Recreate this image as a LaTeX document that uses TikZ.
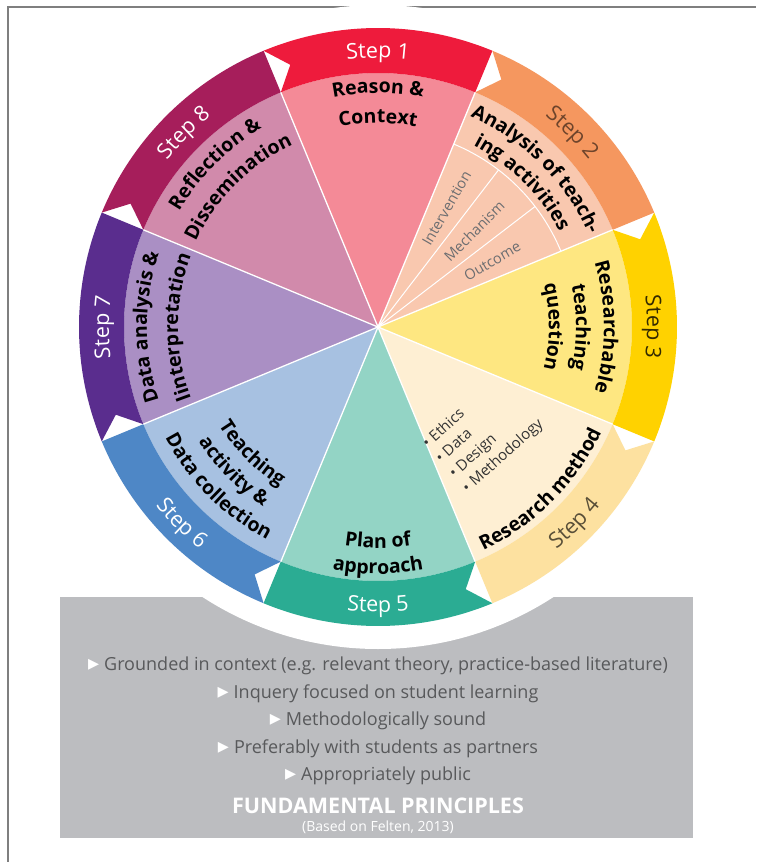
\documentclass[tikz,border=0pt]{standalone}
\usepackage{fontspec}
\setmainfont{Open Sans}
\newfontfamily\trifont{DejaVu Sans}
\usetikzlibrary{decorations.text}

\definecolor{bandA}{HTML}{EE1B3C}
\definecolor{fillA}{HTML}{F48A97}
\definecolor{bandB}{HTML}{F5975F}
\definecolor{fillB}{HTML}{F9C8AF}
\definecolor{bandC}{HTML}{FFD200}
\definecolor{fillC}{HTML}{FEE781}
\definecolor{bandD}{HTML}{FDE1A0}
\definecolor{fillD}{HTML}{FEEFD3}
\definecolor{bandE}{HTML}{2BAC93}
\definecolor{fillE}{HTML}{93D4C5}
\definecolor{bandF}{HTML}{4E87C6}
\definecolor{fillF}{HTML}{A7C1E1}
\definecolor{bandG}{HTML}{5A2D8E}
\definecolor{fillG}{HTML}{AA8FC4}
\definecolor{bandH}{HTML}{A61E5B}
\definecolor{fillH}{HTML}{D18AAB}
\definecolor{boxgrey}{HTML}{BCBDC0}
\definecolor{rulegrey}{HTML}{58595B}
\definecolor{subgrey}{HTML}{6D6E71}
\definecolor{framegrey}{HTML}{7F7F7F}

\newcommand\lbl{\bfseries\fontsize{19.5}{24}\selectfont}
\newcommand\stp{\fontsize{21.5}{24}\selectfont}
\newcommand\tri{{\trifont\fontsize{22}{22}\selectfont\color{white}▸}\hspace{5pt}}

\begin{document}
\begin{tikzpicture}[x=1pt, y=1pt, node distance=27.5pt,
  curved/.style={decorate, decoration={text along path, text align=center, text={#1}}},
  sub/.style={text=subgrey, font=\fontsize{14.5}{16}\selectfont},
  rule/.style={text=rulegrey, font=\fontsize{18}{20}\selectfont}]

\useasboundingbox (-378,-535) rectangle (378,327);
\draw[framegrey, line width=1.5] (-370,-535) -- (-370,320) -- (378,320);

% principles box with the white ring cut out
\fill[boxgrey] (-318,-270) rectangle (315,-511);
\fill[white] (0,0) circle[radius=322pt];

% the eight steps
\foreach \k/\bc/\sc in {1/bandA/fillA, 2/bandB/fillB, 3/bandC/fillC, 4/bandD/fillD,
                        5/bandE/fillE, 6/bandF/fillF, 7/bandG/fillG, 8/bandH/fillH} {
  \pgfmathsetmacro\s{112.5-45*(\k-1)}
  \pgfmathsetmacro\e{\s-45}
  \fill[\sc] (0,0) -- (\s:254pt) arc[start angle=\s, end angle=\e, radius=254pt] -- cycle;
  \fill[\bc] (\s:299pt) arc[start angle=\s, end angle=\e, radius=299pt]
    -- (\e:254pt) arc[start angle=\e, end angle=\s, radius=254pt] -- ({\s-4}:276.5pt) -- cycle;
}
\foreach \t in {22.5,67.5,...,337.5}
  \draw[white, line width=1.3] (0,0) -- (\t:254pt);

% step 2 subdivision
\draw[white, line width=1] (67.5:198pt) arc[start angle=67.5, end angle=22.5, radius=198pt];
\draw[white, line width=1] (0,0) -- (52.5:198pt) (0,0) -- (37.5:198pt);
\node[sub, rotate=60] (int) at (60:137pt) {Intervention};
\node[sub, rotate=45] (mech) at (45:136pt) {Mechanism};
\node[sub, rotate=30] (out) at (30:132pt) {Outcome};

% step labels in the rim
\path[curved={|\stp|Step 1}, decoration={text color=white}] (118:269pt) arc[start angle=118, end angle=62, radius=269pt];
\path[curved={|\stp|Step 2}, decoration={text color=black!55!bandB}] (73:269pt) arc[start angle=73, end angle=17, radius=269pt];
\path[curved={|\stp|Step 3}, decoration={text color=black!80!bandC}] (28:269pt) arc[start angle=28, end angle=-28, radius=269pt];
\path[curved={|\stp|Step 4}, decoration={text color=black!65!bandD}] (-73:285pt) arc[start angle=-73, end angle=-17, radius=285pt];
\path[curved={|\stp|Step 5}, decoration={text color=white}] (-118:285pt) arc[start angle=-118, end angle=-62, radius=285pt];
\path[curved={|\stp|Step 6}, decoration={text color=white}] (197:285pt) arc[start angle=197, end angle=253, radius=285pt];
\path[curved={|\stp|Step 7}, decoration={text color=white}] (208:269pt) arc[start angle=208, end angle=152, radius=269pt];
\path[curved={|\stp|Step 8}, decoration={text color=white}] (163:269pt) arc[start angle=163, end angle=107, radius=269pt];

% sector titles
\path[curved={|\lbl|Reason {\&}}] (118:234pt) arc[start angle=118, end angle=62, radius=234pt];
\path[curved={|\lbl|Context}] (118:204pt) arc[start angle=118, end angle=62, radius=204pt];
\path[curved={|\lbl|Analysis of teach-}] (77:230pt) arc[start angle=77, end angle=13, radius=230pt];
\path[curved={|\lbl|ing activities}] (77:205pt) arc[start angle=77, end angle=13, radius=205pt];
\path[curved={|\lbl|Researchable}] (28:226pt) arc[start angle=28, end angle=-28, radius=226pt];
\path[curved={|\lbl|teaching}] (28:198pt) arc[start angle=28, end angle=-28, radius=198pt];
\path[curved={|\lbl|question}] (28:171pt) arc[start angle=28, end angle=-28, radius=171pt];
\path[curved={|\lbl|Research method}] (-77:247pt) arc[start angle=-77, end angle=-13, radius=247pt];
\path[curved={|\lbl|Plan of}] (-118:221pt) arc[start angle=-118, end angle=-62, radius=221pt];
\path[curved={|\lbl|approach}] (-118:247pt) arc[start angle=-118, end angle=-62, radius=247pt];
\path[curved={|\lbl|Teaching}] (193:187pt) arc[start angle=193, end angle=257, radius=187pt];
\path[curved={|\lbl|activity {\&}}] (193:213pt) arc[start angle=193, end angle=257, radius=213pt];
\path[curved={|\lbl|Data collection}] (193:240pt) arc[start angle=193, end angle=257, radius=240pt];
\path[curved={|\lbl|Data analysis {\&}}] (212:231pt) arc[start angle=212, end angle=148, radius=231pt];
\path[curved={|\lbl|linterpretation}] (212:200pt) arc[start angle=212, end angle=148, radius=200pt];
\path[curved={|\lbl|Reflection {\&}}] (167:230pt) arc[start angle=167, end angle=103, radius=230pt];
\path[curved={|\lbl|Dissemination}] (167:201pt) arc[start angle=167, end angle=103, radius=201pt];

\node[rotate=42, align=left, text=black!80, font=\fontsize{15}{20}\selectfont] (meth) at (-45.5:150pt)
  {\textbullet\ Ethics\\ \textbullet\ Data\\ \textbullet\ Design\\ \textbullet\ Methodology};

% fundamental principles
\node[rule] (r1) at (0,-339) {\tri Grounded in context (e.g. relevant theory, practice-based literature)};
\node[rule] (r2) [below of=r1] {\tri Inquery focused on student learning};
\node[rule] (r3) [below of=r2] {\tri Methodologically sound};
\node[rule] (r4) [below of=r3] {\tri Preferably with students as partners};
\node[rule] (r5) [below of=r4] {\tri Appropriately public};
\node[text=white, font=\bfseries\fontsize{21.5}{24}\selectfont] (fp) at (0,-479) {FUNDAMENTAL PRINCIPLES};
\node[text=white, font=\fontsize{14}{16}\selectfont] (cite) at (0,-500) {(Based on Felten, 2013)};
\end{tikzpicture}
\end{document}
